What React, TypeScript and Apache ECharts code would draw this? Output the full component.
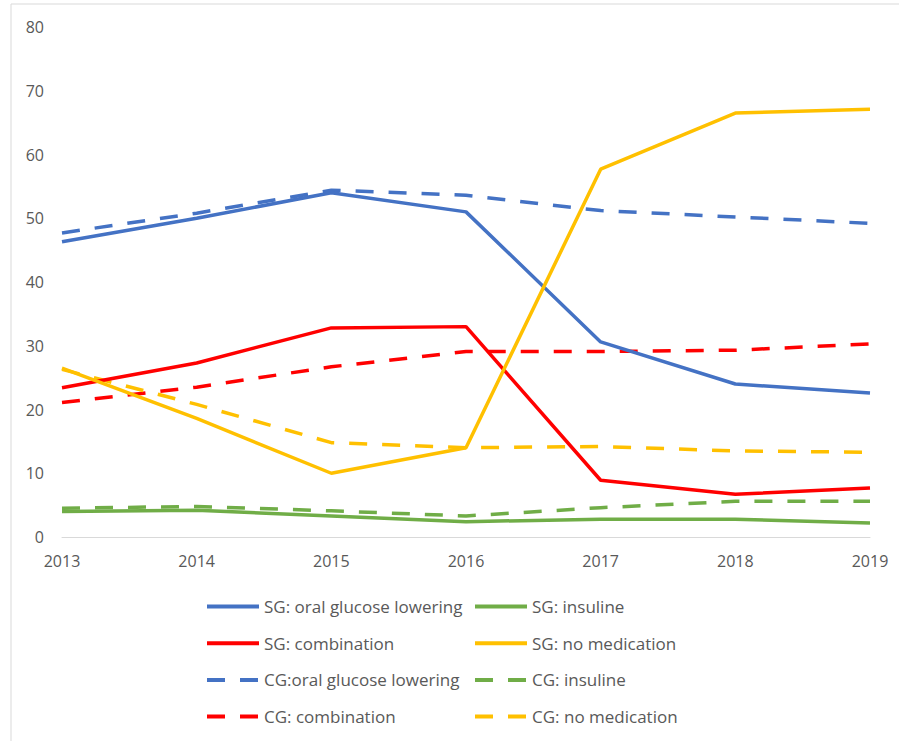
import React, { useEffect, useRef } from "react";
import * as echarts from "echarts";

const years = ["2013", "2014", "2015", "2016", "2017", "2018", "2019"];
const sgOral = [46.3, 50.0, 54.0, 51.0, 30.6, 24.0, 22.6];
const sgInsuline = [4.0, 4.2, 3.3, 2.4, 2.8, 2.8, 2.2];
const sgCombination = [23.4, 27.3, 32.8, 33.0, 8.9, 6.7, 7.7];
const sgNoMed = [26.5, 18.6, 10.0, 14.0, 57.7, 66.5, 67.1];
const cgOral = [47.7, 50.8, 54.4, 53.6, 51.2, 50.2, 49.2];
const cgInsuline = [4.5, 4.8, 4.1, 3.3, 4.6, 5.6, 5.6];
const cgCombination = [21.1, 23.5, 26.7, 29.1, 29.1, 29.3, 30.3];
const cgNoMed = [26.3, 20.8, 14.8, 14.0, 14.2, 13.5, 13.3];

const BLUE = "#4472C4";
const GREEN = "#70AD47";
const RED = "#FF0000";
const YELLOW = "#FFC000";
const FONT = "Open Sans";

export default function App() {
  const ref = useRef<HTMLDivElement>(null);
  useEffect(() => {
    document.body.style.margin = "0";
    const chart = echarts.init(ref.current!, null, { renderer: "svg" });
    const mk = (name: string, data: number[], color: string, dashed: boolean) => ({
      name,
      type: "line",
      data,
      symbol: "none",
      showSymbol: false,
      lineStyle: {
        color,
        width: 3.5,
        type: dashed ? [18, 15] : "solid",
        cap: "butt",
      },
      itemStyle: { color },
      z: dashed ? 2 : 3,
    });
    const legendCommon = {
      orient: "vertical",
      itemWidth: 52,
      itemHeight: 17,
      itemGap: 19.7,
      itemStyle: { opacity: 0 },
      lineStyle: { width: 4 },
      textStyle: { color: "#595959", fontSize: 17, fontFamily: FONT },
      selectedMode: false,
    };
    chart.setOption({
      animation: false,
      graphic: [
        {
          type: "rect",
          shape: { x: 11, y: 4, width: 900, height: 760 },
          style: { fill: "none", stroke: "#d9d9d9", lineWidth: 1 },
          silent: true,
        },
      ],
      grid: { left: 62, right: 29, top: 27, bottom: 204 },
      xAxis: {
        type: "category",
        data: years,
        boundaryGap: false,
        axisLine: { lineStyle: { color: "#d9d9d9", width: 1 } },
        axisTick: { show: false },
        axisLabel: { color: "#595959", fontSize: 16, fontFamily: FONT, margin: 16 },
      },
      yAxis: {
        type: "value",
        min: 0,
        max: 80,
        interval: 10,
        axisLine: { show: false },
        axisTick: { show: false },
        splitLine: { show: false },
        axisLabel: { color: "#595959", fontSize: 16, fontFamily: FONT, margin: 18 },
      },
      legend: [
        {
          ...legendCommon,
          left: 200,
          top: 593,
          data: [
            "SG: oral glucose lowering",
            "SG: combination",
            "CG:oral glucose lowering",
            "CG: combination",
          ],
        },
        {
          ...legendCommon,
          left: 468,
          top: 593,
          data: ["SG: insuline", "SG: no medication", "CG: insuline", "CG: no medication"],
        },
      ],
      series: [
        mk("SG: oral glucose lowering", sgOral, BLUE, false),
        mk("SG: insuline", sgInsuline, GREEN, false),
        mk("SG: combination", sgCombination, RED, false),
        mk("SG: no medication", sgNoMed, YELLOW, false),
        mk("CG:oral glucose lowering", cgOral, BLUE, true),
        mk("CG: insuline", cgInsuline, GREEN, true),
        mk("CG: combination", cgCombination, RED, true),
        mk("CG: no medication", cgNoMed, YELLOW, true),
      ],
    });
    return () => chart.dispose();
  }, []);
  return <div ref={ref} style={{ width: 899, height: 741 }} />;
}
